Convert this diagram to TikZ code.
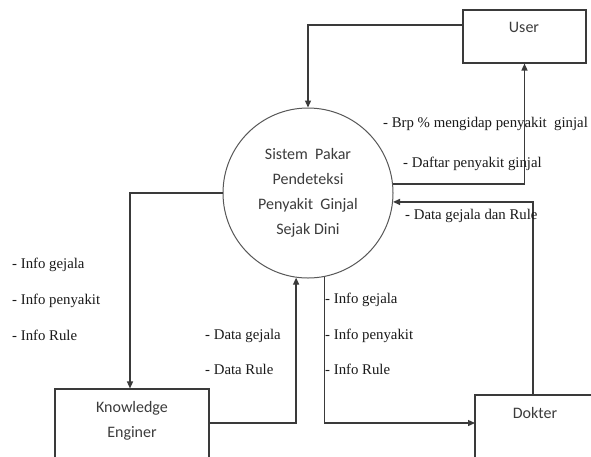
\documentclass[tikz,border=0pt]{standalone}
\usepackage{fontspec}
\setmainfont{Liberation Serif}
\newfontfamily\boxfont{Carlito}
\usetikzlibrary{arrows.meta}
\definecolor{ln}{HTML}{3A3A3A}
\definecolor{txt}{HTML}{1A1A1A}
\begin{document}
\begin{tikzpicture}[x=1pt,y=-1pt,
  box/.style={draw=ln,line width=1.1pt,rectangle,inner sep=0pt},
  proc/.style={draw=ln!85,line width=1pt,circle,inner sep=0pt,minimum size=170pt,
     align=center,font=\boxfont\fontsize{16}{25}\selectfont,text=txt!85},
  boxtext/.style={anchor=base,font=\boxfont\fontsize{16}{20}\selectfont,text=txt!85,inner sep=0pt},
  lbl/.style={anchor=base west,font=\fontsize{14.8}{17}\selectfont,text=txt,inner sep=0pt},
  flow/.style={draw=ln,line width=1.3pt,-{Triangle[length=7pt,width=6pt]}}]
\useasboundingbox (0,0) rectangle (591,456);
\clip (0,0) rectangle (591,456);
\fill[white] (0,0) rectangle (591,456);

% entities and process
\node[box,minimum width=123pt,minimum height=53pt] (user) at (524.5,36.5) {};
\node[boxtext] (userlbl) at (524,32) {User};
\node[box,minimum width=125pt,minimum height=75pt] (dokter) at (537.5,432.5) {};
\node[boxtext] (dokterlbl) at (535,418) {Dokter};
\node[box,minimum width=154pt,minimum height=81pt] (ke) at (132,429.5) {};
\node[boxtext] (kelbl1) at (132,412) {Knowledge};
\node[boxtext] (kelbl2) at (132,437) {Enginer};
\node[proc] (sys) at (308,193) {Sistem\ \ Pakar\\Pendeteksi\\Penyakit\ \ Ginjal\\Sejak Dini};

\coordinate (dk) at (475,423);

% flows
\draw[flow] ([yshift=11.5pt]user.west) -| (sys.north);
\draw[flow] (sys.6.75) -| (user.south);
\draw[flow] ([xshift=-4.5pt]dokter.north) |- (sys.-6.75);
\draw[flow] (sys.-79) |- (dk);
\draw[flow] (sys.west) -| ([xshift=-2pt]ke.north);
\draw[flow] (ke.east |- dk) -| (sys.-98);

% labels
\node[lbl] (l1) at (383,127) {- Brp \% mengidap penyakit\ \ ginjal};
\node[lbl] (l2) at (403,167) {- Daftar penyakit ginjal};
\node[lbl] (l3) at (405,219) {- Data gejala dan Rule};
\node[lbl] (l4) at (12,268) {- Info gejala};
\node[lbl] (l5) at (12,304) {- Info penyakit};
\node[lbl] (l6) at (12,340) {- Info Rule};
\node[lbl] (l7) at (205,339) {- Data gejala};
\node[lbl] (l8) at (205,374) {- Data Rule};
\node[lbl] (l9) at (325,303) {- Info gejala};
\node[lbl] (l10) at (325,339) {- Info penyakit};
\node[lbl] (l11) at (325,374) {- Info Rule};
\end{tikzpicture}
\end{document}
